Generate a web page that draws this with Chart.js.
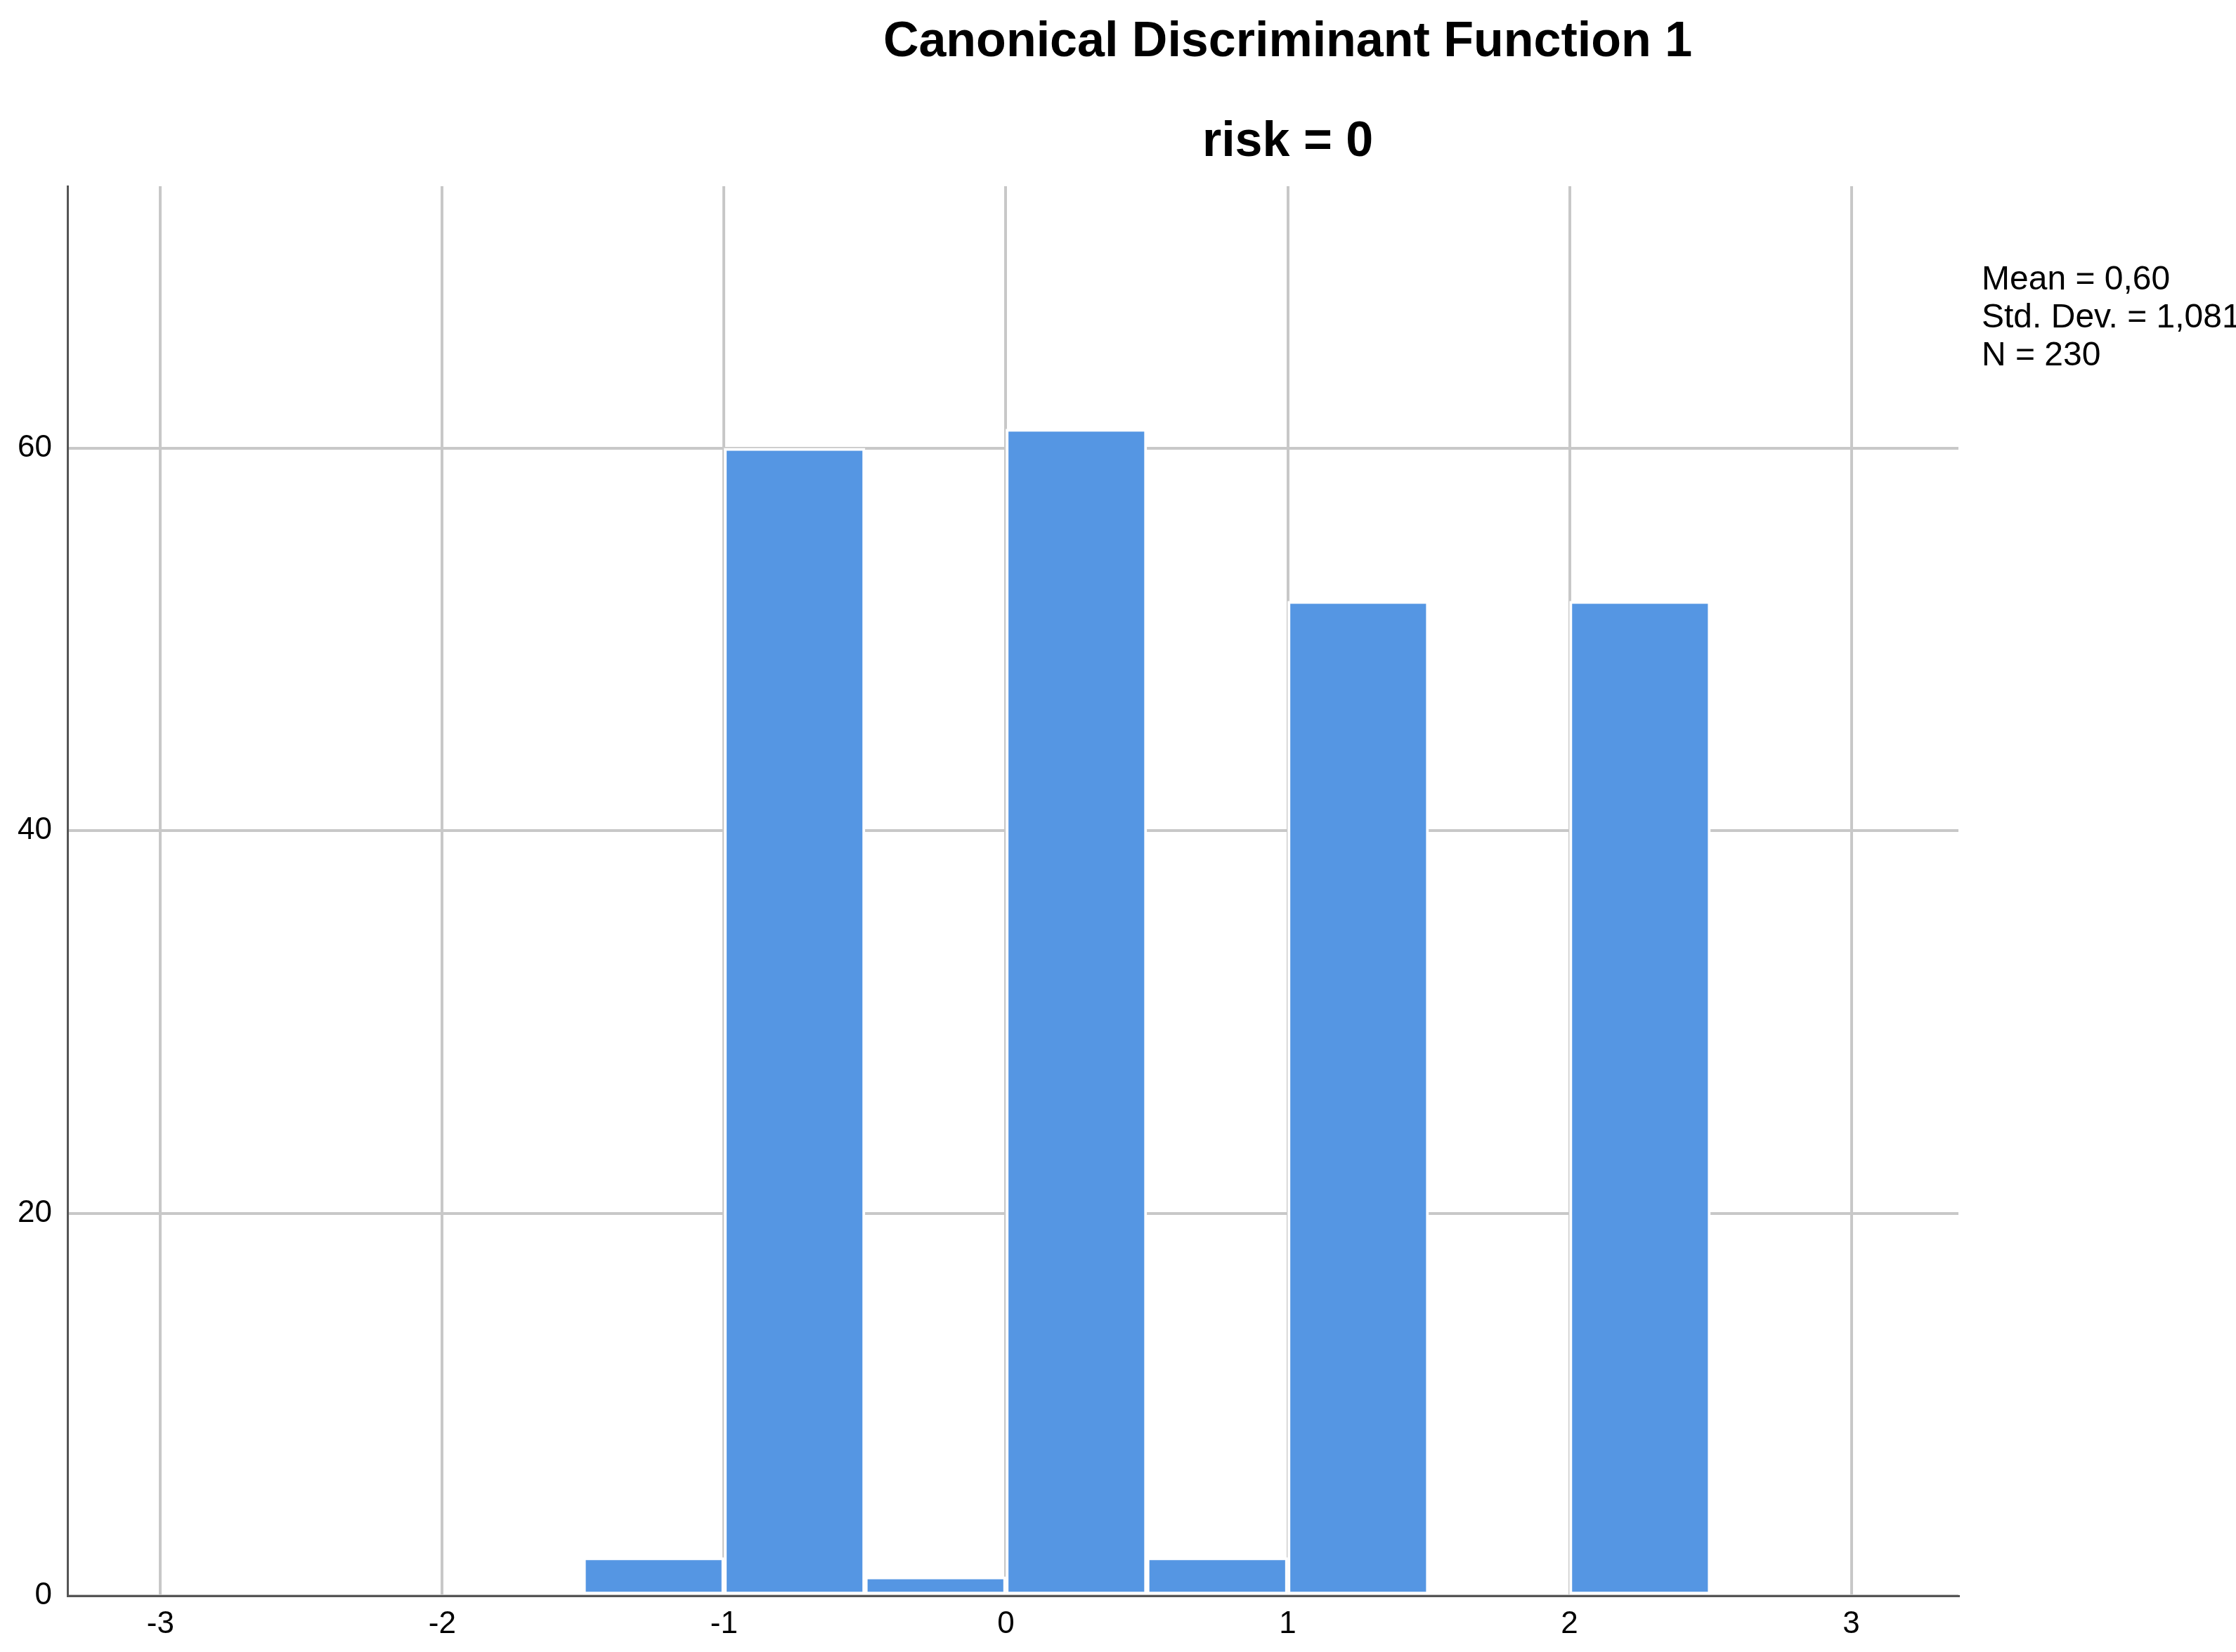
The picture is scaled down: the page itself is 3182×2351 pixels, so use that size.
<!DOCTYPE html>
<html>
<head>
<meta charset="utf-8">
<script src="https://cdn.jsdelivr.net/npm/chart.js@4"></script>
<style>
  html, body { margin: 0; padding: 0; background: #fff; }
  #wrap { width: 3182px; height: 2351px; }
</style>
</head>
<body>
<div id="wrap"><canvas id="myChart"></canvas></div>
<script>
// histogram bins (centres, width 0.5) and counts
const binCenters = [-1.25, -0.75, -0.25, 0.25, 0.75, 1.25, 2.25];
const counts = [2, 60, 1, 61, 2, 52, 52];
const xTicks = [-3, -2, -1, 0, 1, 2, 3];
const yTicks = [0, 20, 40, 60];
const titleLines = ["Canonical Discriminant Function 1", "risk = 0"];
const statLines = ["Mean = 0,60", "Std. Dev. = 1,081", "N = 230"];

const font = "'Liberation Sans', Arial, sans-serif";

// draws the title and the stats box at fixed places
const textPlugin = {
  id: "texts",
  afterDraw(chart) {
    const ctx = chart.ctx;
    ctx.save();
    ctx.fillStyle = "#000";
    ctx.textAlign = "center";
    ctx.textBaseline = "alphabetic";
    ctx.font = "bold 70px " + font;
    const cx = chart.scales.x.getPixelForValue(1);
    ctx.fillText(titleLines[0], cx, 80);
    ctx.fillText(titleLines[1], cx, 222);
    ctx.textAlign = "left";
    ctx.font = "48px " + font;
    statLines.forEach((t, i) => ctx.fillText(t, 2820, 412 + i * 54));
    ctx.restore();
  }
};

new Chart(document.getElementById("myChart"), {
  type: "bar",
  data: {
    datasets: [{
      data: binCenters.map((c, i) => ({ x: c, y: counts[i] })),
      backgroundColor: "#5596e3",
      borderColor: "#ffffff",
      borderWidth: 4,
      borderSkipped: false,
      barPercentage: 1,
      categoryPercentage: 1
    }]
  },
  options: {
    responsive: true,
    maintainAspectRatio: false,
    animation: false,
    devicePixelRatio: 1,
    layout: { padding: { top: 265, right: 395, left: 0, bottom: 0 } },
    plugins: { legend: { display: false }, tooltip: { enabled: false } },
    scales: {
      x: {
        type: "linear",
        offset: false,
        min: -3.33,
        max: 3.38,
        afterBuildTicks: (s) => { s.ticks = xTicks.map(v => ({ value: v })); },
        afterFit: (s) => { s.height = 80; },
        grid: { color: "#c8c8c8", lineWidth: 4, drawTicks: false, offset: false },
        border: { color: "#555", width: 3 },
        ticks: { color: "#000", font: { size: 44, family: font }, padding: 14 }
      },
      y: {
        min: 0,
        max: 73.7,
        afterBuildTicks: (s) => { s.ticks = yTicks.map(v => ({ value: v })); },
        afterFit: (s) => { s.width = 96; },
        grid: { color: "#c8c8c8", lineWidth: 4, drawTicks: false },
        border: { color: "#555", width: 3 },
        ticks: { color: "#000", font: { size: 44, family: font }, padding: 22 }
      }
    }
  },
  plugins: [textPlugin]
});
</script>
</body>
</html>
